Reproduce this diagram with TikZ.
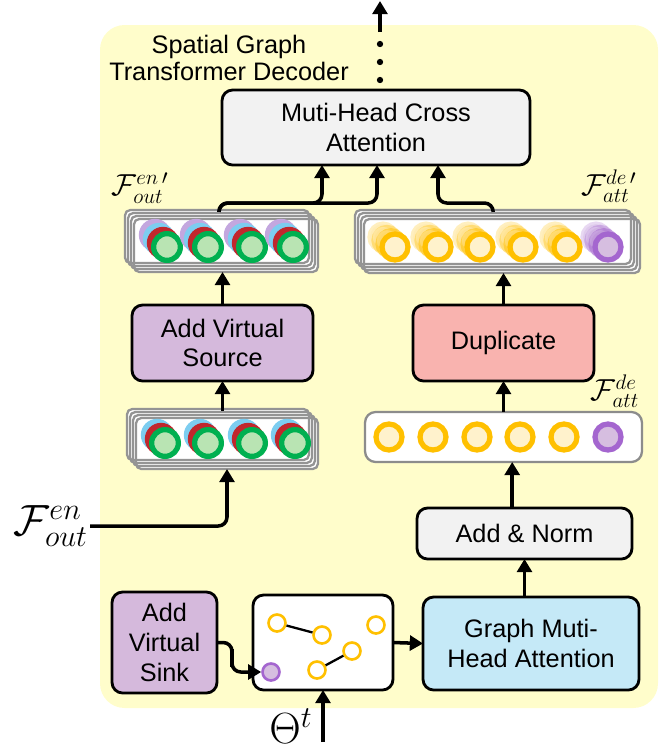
\documentclass[tikz,border=0pt]{standalone}
\usepackage[no-math]{fontspec}
\setmainfont{Liberation Sans}
\usepackage{xcolor}
\usetikzlibrary{arrows.meta}

\definecolor{bgyellow}{HTML}{FFFDCB}
\definecolor{boxgray}{HTML}{F2F2F2}
\definecolor{boxpurple}{HTML}{D5B9DC}
\definecolor{boxpink}{HTML}{F9B3AF}
\definecolor{boxblue}{HTML}{C5E9F7}
\definecolor{ringyellow}{HTML}{FFC000}
\definecolor{fillcream}{HTML}{FFF2CC}
\definecolor{ringpurple}{HTML}{A466CF}
\definecolor{fillpurple}{HTML}{D6BEE0}
\definecolor{ringgreen}{HTML}{00B050}
\definecolor{fillgreen}{HTML}{B9E4B3}
\definecolor{ringred}{HTML}{C1272D}
\definecolor{ringblue}{HTML}{7DCDF0}
\definecolor{ringlilac}{HTML}{C3A7DF}

% stacked copies behind a tensor box
\newcommand{\stackfill}[1]{%
  \foreach \k in {3,2,1,0}
    \fill[white, rounded corners=3pt] ([shift={(-3*\k,-3*\k)}]#1.north west) rectangle ([shift={(-3*\k,-3*\k)}]#1.south east);}
\newcommand{\stacklines}[1]{%
  \foreach \k in {3,2,1,0}
    \draw[stackline] ([shift={(-3*\k,-3*\k)}]#1.north west) rectangle ([shift={(-3*\k,-3*\k)}]#1.south east);}

\begin{document}
\begin{tikzpicture}[x=0.02cm, y=-0.02cm,
    box/.style={draw, line width=1.6pt, rounded corners=6pt, align=center, inner sep=0pt, outer sep=0pt,
      font=\fontsize{14.4}{17}\selectfont},
    arr/.style={line width=2pt, -{Triangle[length=7.5pt,width=8.5pt]}},
    stacknode/.style={inner sep=0pt, outer sep=0pt},
    stackline/.style={draw=black!42, line width=1.3pt, rounded corners=3pt},
    bigring/.style={line width=3pt},
    gnode/.style={circle, draw=ringyellow, fill=white, line width=1.5pt, minimum size=0.34cm, inner sep=0pt},
    gedge/.style={line width=1.3pt},
    lbl/.style={font=\fontsize{17}{20}\selectfont, inner sep=1pt}]

    \useasboundingbox (0,0) rectangle (664,752);

    % yellow decoder area
    \fill[bgyellow, rounded corners=14pt] (100,25) rectangle (658,708);
    \node[align=center, font=\fontsize{14.4}{15.5}\selectfont] (title) at (229,58) {Spatial Graph\\Transformer Decoder};

    % boxes
    \node[box, fill=boxgray, minimum width=6.16cm, minimum height=1.5cm] (cross) at (376,127.5) {Muti-Head Cross\\Attention};
    \node[box, fill=boxpurple, minimum width=3.62cm, minimum height=1.52cm] (src) at (222.5,343) {Add Virtual\\Source};
    \node[box, fill=boxpink, minimum width=3.62cm, minimum height=1.52cm] (dup) at (503.5,343) {Duplicate};
    \node[box, fill=white, draw=black!45, line width=1.3pt, minimum width=5.54cm, minimum height=1.0cm] (derow) at (503.5,437) {};
    \node[box, fill=boxgray, minimum width=4.3cm, minimum height=1.02cm] (addnorm) at (524.5,533.5) {Add \& Norm};
    \node[box, fill=boxblue, minimum width=4.32cm, minimum height=1.86cm] (gmha) at (531,643.5) {Graph Muti-\\Head Attention};
    \node[box, fill=boxpurple, minimum width=2.1cm, minimum height=2.02cm] (sink) at (164.5,642.5) {Add\\Virtual\\Sink};
    \node[box, fill=white, minimum width=2.8cm, minimum height=1.9cm] (graph) at (323,642.5) {};

    % stacked tensors
    \node[stacknode, minimum width=3.68cm, minimum height=1.06cm] (enstackA) at (226,245.5) {};
    \node[stacknode, minimum width=5.52cm, minimum height=1.08cm] (destack) at (502,246) {};
    \node[stacknode, minimum width=3.64cm, minimum height=1.02cm] (enstackB) at (227,443.5) {};
    \stackfill{enstackA} \stacklines{enstackA}
    \stackfill{destack} \stacklines{destack}
    \stackfill{enstackB} \stacklines{enstackB}

    % encoder features
    \foreach \x in {167,208,252,293} {
        \fill[ringlilac] (\x-12,235) circle (9.2pt);
        \fill[ringblue] (\x-8,239) circle (9.2pt);
        \fill[ringred] (\x-4,243) circle (9.2pt);
        \draw[bigring, draw=ringgreen, fill=fillgreen] (\x,247) circle (7.6pt);
    }
    \foreach \x in {165,208,252,295} {
        \fill[ringblue] (\x-8,435) circle (9.2pt);
        \fill[ringred] (\x-4,439) circle (9.2pt);
        \draw[bigring, draw=ringgreen, fill=fillgreen] (\x,443) circle (7.6pt);
    }

    % decoder features
    \foreach \x [count=\i] in {395,438,480,523,567,608} {
        \ifnum\i=6 \def\rc{ringpurple}\def\fc{fillpurple}\else \def\rc{ringyellow}\def\fc{fillcream}\fi
        \foreach \g/\op in {3/0.25,2/0.35,1/0.5}
            \draw[bigring, draw=\rc, fill=\fc, opacity=\op] (\x-4*\g,247-3.3*\g) circle (7.4pt);
        \draw[bigring, draw=\rc, fill=\fc] (\x,247) circle (7.4pt);
    }
    \foreach \x [count=\i] in {389,433,477,520,564,608} {
        \ifnum\i=6 \def\rc{ringpurple}\def\fc{fillpurple}\else \def\rc{ringyellow}\def\fc{fillcream}\fi
        \draw[bigring, draw=\rc, fill=\fc] (\x,437) circle (7.4pt);
    }

    % graph
    \node[gnode] (ga) at (277,623) {};
    \node[gnode] (gb) at (322,635) {};
    \node[gnode] (gc) at (376,625) {};
    \node[gnode] (gd) at (352,651) {};
    \node[gnode] (ge) at (317,670) {};
    \node[gnode, draw=ringpurple, fill=fillpurple] (gsink) at (271,672) {};
    \draw[gedge] (ga) -- (gb);
    \draw[gedge] (ge) -- (gd);

    % labels
    \node[lbl] (enAlbl) at (140,188) {$\mathcal{F}_{out}^{en\,\prime}$};
    \node[lbl] (deAlbl) at (609,186) {$\mathcal{F}_{att}^{de\,\prime}$};
    \node[lbl] (derowlbl) at (615,391) {$\mathcal{F}_{att}^{de}$};
    \node[anchor=east, font=\fontsize{26}{30}\selectfont, inner sep=1pt] (enin) at (90,526) {$\mathcal{F}_{out}^{en}$};
    \node[font=\fontsize{23}{27}\selectfont] (theta) at (291,726) {$\Theta^t$};

    % connectors
    \coordinate (enbranch) at (322,203);
    \coordinate (enjoin) at (377,203);
    \coordinate (dejoin) at (438,203);
    \coordinate (sinkbend) at (232,658);
    \coordinate (thetain) at (323,742);
    \coordinate (outbase) at (380,32);
    \coordinate (outtip) at (380,1);

    \draw[arr, rounded corners=5pt] (enin.east) -| (enstackB.south);
    \draw[arr] ([yshift=4pt]enstackB.north -| src.south) -- (src.south);
    \draw[arr] (src.north) -- (src.north |- enstackA.south);
    \draw[arr, rounded corners=5pt] ([xshift=-4pt,yshift=4pt]enstackA.north) |- (enbranch) -- (cross.south -| enbranch);
    \draw[arr, rounded corners=5pt] ([xshift=-4pt,yshift=4pt]enstackA.north) |- (enjoin) -- (cross.south -| enjoin);
    \draw[arr, rounded corners=5pt] ([xshift=-5pt,yshift=4pt]destack.north) |- (dejoin) -- (cross.south -| dejoin);
    \draw[arr] (dup.north) -- (dup.north |- destack.south);
    \draw[arr] (derow.north) -- (dup.south);
    \draw[arr] ([xshift=-7pt]addnorm.north) -- ([xshift=-7pt]addnorm.north |- derow.south);
    \draw[arr] (gmha.north -| addnorm.south) -- (addnorm.south);
    \draw[arr] (graph.east) -- (gmha.west);
    \draw[arr, rounded corners=5pt] (sink.east) -| (sinkbend) |- (gsink.west);
    \draw[arr] (thetain) -- (graph.south);
    \draw[arr] (outbase) -- (outtip);
    \foreach \y in {44,62,80}
        \fill (380,\y) circle (1.8pt);
\end{tikzpicture}
\end{document}
